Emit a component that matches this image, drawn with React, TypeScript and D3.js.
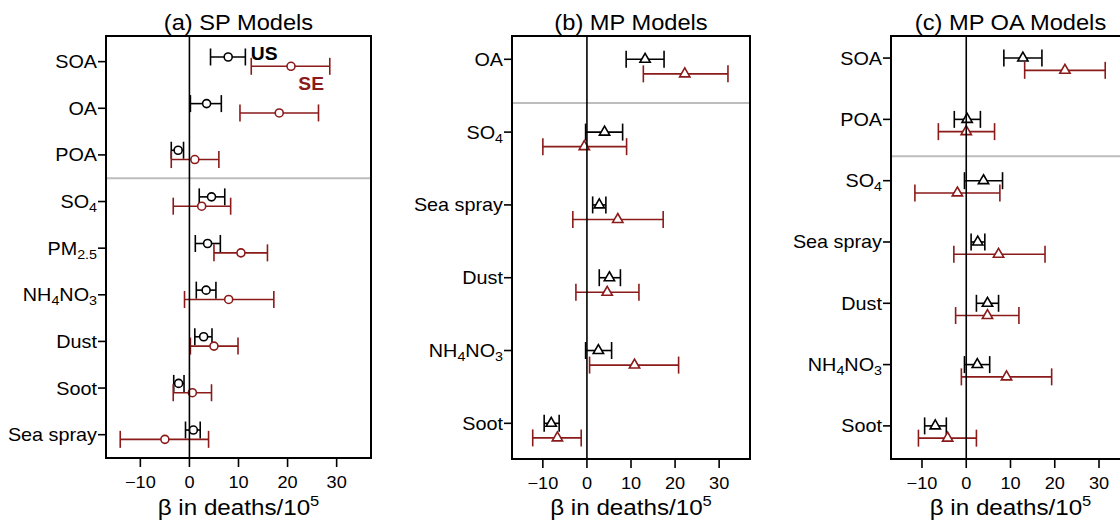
import * as d3 from "d3";

// x axis shared by the three panels
const xDomain = [-17, 37];
const xTicks = [-10, 0, 10, 20, 30];

// (a) SP models: [lower, estimate, upper]
const spRows = ["SOA", "OA", "POA", "SO4", "PM2.5", "NH4NO3", "Dust", "Soot", "Sea spray"];
const spUS = [
  [4.3, 7.9, 11.4], [0.2, 3.5, 6.5], [-3.7, -2.3, -1.2], [2.0, 4.5, 7.2], [1.2, 3.7, 6.3],
  [1.4, 3.4, 5.4], [1.1, 2.9, 4.6], [-3.2, -2.2, -1.1], [-0.8, 0.8, 2.2],
];
const spSE = [
  [12.6, 20.7, 28.6], [10.3, 18.3, 26.3], [-3.7, 1.1, 6.0], [-3.3, 2.5, 8.4], [5.0, 10.5, 15.9],
  [-1.0, 8.0, 17.2], [0.2, 5.0, 9.9], [-3.3, 0.6, 4.5], [-14.1, -5.0, 3.9],
];

// (b) MP models
const mpRows = ["OA", "SO4", "Sea spray", "Dust", "NH4NO3", "Soot"];
const mpUS = [[8.9, 13.2, 17.5], [-0.3, 4.0, 8.1], [1.3, 2.8, 4.3], [2.8, 5.1, 7.6], [-0.3, 2.6, 5.6], [-9.7, -8.1, -6.3]];
const mpSE = [[12.8, 22.2, 32.0], [-10.0, -0.6, 9.0], [-3.2, 7.0, 17.3], [-2.5, 4.6, 11.8], [0.6, 10.8, 20.8], [-12.3, -6.7, -1.3]];

// (c) MP OA models
const oaRows = ["SOA", "POA", "SO4", "Sea spray", "Dust", "NH4NO3", "Soot"];
const oaUS = [[8.5, 12.8, 17.1], [-2.7, 0.2, 3.2], [-0.4, 3.9, 8.2], [1.1, 2.6, 4.2], [2.3, 4.8, 7.3], [-0.4, 2.5, 5.3], [-9.4, -7.0, -4.5]];
const oaSE = [[13.2, 22.3, 31.4], [-6.3, 0.0, 6.4], [-11.6, -2.0, 7.6], [-2.8, 7.3, 17.8], [-2.4, 4.8, 11.9], [-1.1, 9.1, 19.3], [-10.8, -4.2, 2.3]];

const FONT = "'Liberation Sans', Arial, Helvetica, sans-serif";
const RED = "#8b1a1a";
const GREY = "#bdbdbd";
const SX = 1.1; // the original text is a bit wide

const panels = [
  { title: "(a) SP Models", rows: spRows, us: spUS, se: spSE, marker: "circle", left: 106, right: 371, top: 36, bottom: 458, padTop: 0.55, padBottom: 0.5, sep: 2.5, offUS: -0.1, offSE: 0.1, key: true },
  { title: "(b) MP Models", rows: mpRows, us: mpUS, se: mpSE, marker: "triangle", left: 512, right: 750, top: 36, bottom: 459, padTop: 0.32, padBottom: 0.49, sep: 0.6, offUS: 0, offSE: 0.2, key: false },
  { title: "(c) MP OA Models", rows: oaRows, us: oaUS, se: oaSE, marker: "triangle", left: 891, right: 1130, top: 36, bottom: 459, padTop: 0.36, padBottom: 0.54, sep: 1.6, offUS: 0, offSE: 0.2, key: false },
];

// label with numbers as subscripts (SO4, PM2.5, NH4NO3)
function RowLabel({ text, x, y }: any) {
  const parts = text.split(/(\d+(?:\.\d+)?)/).filter((s: string) => s !== "");
  let shifted = false;
  return (
    <text transform={`translate(${x},${y}) scale(${SX},1)`} textAnchor="end" fontSize={18} fontFamily={FONT}>
      {parts.map((p: string, i: number) => {
        const isSub = /^\d/.test(p);
        let dy = 0;
        if (isSub && !shifted) { dy = 4; shifted = true; }
        else if (!isSub && shifted) { dy = -4; shifted = false; }
        return (
          <tspan key={i} dy={dy} fontSize={isSub ? 13 : 18}>{p}</tspan>
        );
      })}
    </text>
  );
}

function Panel({ cfg }: any) {
  const { title, rows, us, se, marker, left, right, top, bottom, padTop, padBottom, sep, offUS, offSE, key } = cfg;
  const x = d3.scaleLinear().domain(xDomain).range([left, right]);
  const y = d3.scaleLinear().domain([-padTop, rows.length - 1 + padBottom]).range([top, bottom]);
  const tri = d3.symbol(d3.symbolTriangle, 46)() as string;
  const fmt = d3.format("d");
  const cap = 8.5;
  const cx = (left + right) / 2;
  const series = [
    { vals: us, color: "#000", off: offUS },
    { vals: se, color: RED, off: offSE },
  ];

  return (
    <g>
      <line x1={left} x2={right} y1={y(sep)} y2={y(sep)} stroke={GREY} strokeWidth={2} />
      {series.map((s, si) =>
        s.vals.map((v: number[], i: number) => {
          const cy = y(i + s.off);
          return (
            <g key={`${si}-${i}`} stroke={s.color} strokeWidth={1.6}>
              <line x1={x(v[0])} x2={x(v[2])} y1={cy} y2={cy} />
              <line x1={x(v[0])} x2={x(v[0])} y1={cy - cap} y2={cy + cap} />
              <line x1={x(v[2])} x2={x(v[2])} y1={cy - cap} y2={cy + cap} />
              {marker === "circle" ? (
                <circle cx={x(v[1])} cy={cy} r={4} fill="white" />
              ) : (
                <path d={tri} transform={`translate(${x(v[1])},${cy})`} fill="white" />
              )}
            </g>
          );
        })
      )}
      <line x1={x(0)} x2={x(0)} y1={top} y2={bottom} stroke="#000" strokeWidth={1.6} />
      <rect x={left} y={top} width={right - left} height={bottom - top} fill="none" stroke="#000" strokeWidth={2} />

      {rows.map((r: string, i: number) => (
        <g key={r}>
          <line x1={left - 8} x2={left} y1={y(i)} y2={y(i)} stroke="#000" strokeWidth={1.6} />
          <RowLabel text={r} x={left - 9} y={y(i) + 6.5} />
        </g>
      ))}

      {xTicks.map((t) => (
        <g key={t}>
          <line x1={x(t)} x2={x(t)} y1={bottom} y2={bottom + 9} stroke="#000" strokeWidth={1.6} />
          <text transform={`translate(${x(t)},${bottom + 30}) scale(${SX},1)`} textAnchor="middle" fontSize={16.5} fontFamily={FONT}>
            {fmt(t)}
          </text>
        </g>
      ))}

      <text transform={`translate(${cx},30) scale(${SX},1)`} textAnchor="middle" fontSize={21.5} fontFamily={FONT}>
        {title}
      </text>
      <text transform={`translate(${cx},515) scale(${SX},1)`} textAnchor="middle" fontSize={22} fontFamily={FONT}>
        β in deaths/10<tspan dy={-9} fontSize={15}>5</tspan>
      </text>

      {key && (
        <g fontFamily={FONT} fontWeight="bold" fontSize={17.5}>
          <text transform={`translate(${x(12.5)},${y(-0.04)}) scale(${SX},1)`}>US</text>
          <text transform={`translate(${x(22.2)},${y(0.61)}) scale(${SX},1)`} fill={RED}>SE</text>
        </g>
      )}
    </g>
  );
}

export default function App() {
  return (
    <svg width={1120} height={522} style={{ position: "absolute", left: 0, top: 0, background: "white" }}>
      <rect width={1120} height={522} fill="white" />
      {panels.map((p) => (
        <Panel key={p.title} cfg={p} />
      ))}
    </svg>
  );
}
